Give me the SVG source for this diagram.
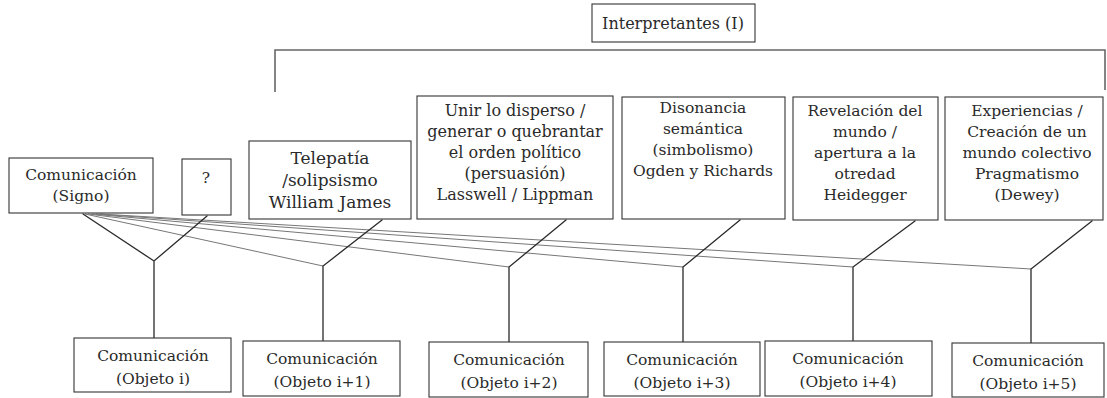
<svg xmlns="http://www.w3.org/2000/svg" width="1107" height="398" viewBox="0 0 1107 398">
<style>
.b{fill:#fff;stroke:#333;stroke-width:1.1}
.t{font-family:"DejaVu Serif","Liberation Serif",serif;font-size:15.5px;fill:#2a2a2a;text-anchor:middle}
.c{fill:none;stroke:#2a2a2a;stroke-width:1.3;stroke-linecap:round}
.f{fill:none;stroke:#777;stroke-width:1}
.br{fill:none;stroke:#666;stroke-width:1.6}
</style>
<rect width="1107" height="398" fill="#fff"/>
<g id="connectors">
<path class="br" d="M275,92 V50 H1105 V90"/>
<path class="f" d="M85,214 L323,266 M88,214 L509,267 M92,214 L683,267 M96,214 L853,267 M100,214 L1031,269"/>
<path class="c" d="M83,214 L154,261 L207,216 M154,261 V338"/>
<path class="c" d="M382,220 L323,266 V341"/>
<path class="c" d="M566,220 L509,267 V342"/>
<path class="c" d="M740,220 L683,267 V342"/>
<path class="c" d="M915,221 L853,267 V341"/>
<path class="c" d="M1092,221 L1031,269 V343"/>
</g>
<g id="interpretantes"><rect class="b" x="592" y="4" width="163" height="38"/><text class="t" x="673" y="29" style="font-size:16px">Interpretantes (I)</text></g>
<g id="signo"><rect class="b" x="9" y="158" width="144" height="55"/><text class="t" x="81" y="180">Comunicación</text><text class="t" x="81" y="201">(Signo)</text></g>
<g id="pregunta"><rect class="b" x="182" y="159" width="49" height="56"/><text class="t" x="206" y="183">?</text></g>
<g id="telepatia"><rect class="b" x="249" y="141" width="162" height="78"/><text class="t" x="330" y="164" style="font-size:17px">Telepatía</text><text class="t" x="330" y="186" style="font-size:17px">/solipsismo</text><text class="t" x="330" y="208" style="font-size:17px">William James</text></g>
<g id="unir"><rect class="b" x="417" y="96" width="196" height="123"/><text class="t" x="515" y="116" style="font-size:16px">Unir lo disperso /</text><text class="t" x="515" y="137" style="font-size:16px">generar o quebrantar</text><text class="t" x="515" y="158" style="font-size:16px">el orden político</text><text class="t" x="515" y="179" style="font-size:16px">(persuasión)</text><text class="t" x="515" y="200" style="font-size:16px">Lasswell / Lippman</text></g>
<g id="disonancia"><rect class="b" x="622" y="97" width="163" height="122"/><text class="t" x="703" y="113">Disonancia</text><text class="t" x="703" y="134">semántica</text><text class="t" x="703" y="155">(simbolismo)</text><text class="t" x="703" y="176">Ogden y Richards</text></g>
<g id="revelacion"><rect class="b" x="793" y="97" width="145" height="123"/><text class="t" x="865" y="116">Revelación del</text><text class="t" x="865" y="137">mundo /</text><text class="t" x="865" y="158">apertura a la</text><text class="t" x="865" y="179">otredad</text><text class="t" x="865" y="200">Heidegger</text></g>
<g id="experiencias"><rect class="b" x="945" y="97" width="158" height="123"/><text class="t" x="1027" y="116">Experiencias /</text><text class="t" x="1027" y="137">Creación de un</text><text class="t" x="1027" y="158">mundo colectivo</text><text class="t" x="1027" y="179">Pragmatismo</text><text class="t" x="1027" y="200">(Dewey)</text></g>
<g id="objeto0"><rect class="b" x="74" y="338" width="157" height="54"/><text class="t" x="153" y="361">Comunicación</text><text class="t" x="153" y="384">(Objeto i)</text></g>
<g id="objeto1"><rect class="b" x="243" y="341" width="157" height="55"/><text class="t" x="322" y="364">Comunicación</text><text class="t" x="322" y="387">(Objeto i+1)</text></g>
<g id="objeto2"><rect class="b" x="429" y="342" width="159" height="55"/><text class="t" x="509" y="365">Comunicación</text><text class="t" x="509" y="388">(Objeto i+2)</text></g>
<g id="objeto3"><rect class="b" x="604" y="342" width="156" height="54"/><text class="t" x="682" y="365">Comunicación</text><text class="t" x="682" y="388">(Objeto i+3)</text></g>
<g id="objeto4"><rect class="b" x="765" y="341" width="167" height="55"/><text class="t" x="848" y="364">Comunicación</text><text class="t" x="848" y="387">(Objeto i+4)</text></g>
<g id="objeto5"><rect class="b" x="952" y="343" width="152" height="54"/><text class="t" x="1028" y="366">Comunicación</text><text class="t" x="1028" y="389">(Objeto i+5)</text></g>
</svg>
